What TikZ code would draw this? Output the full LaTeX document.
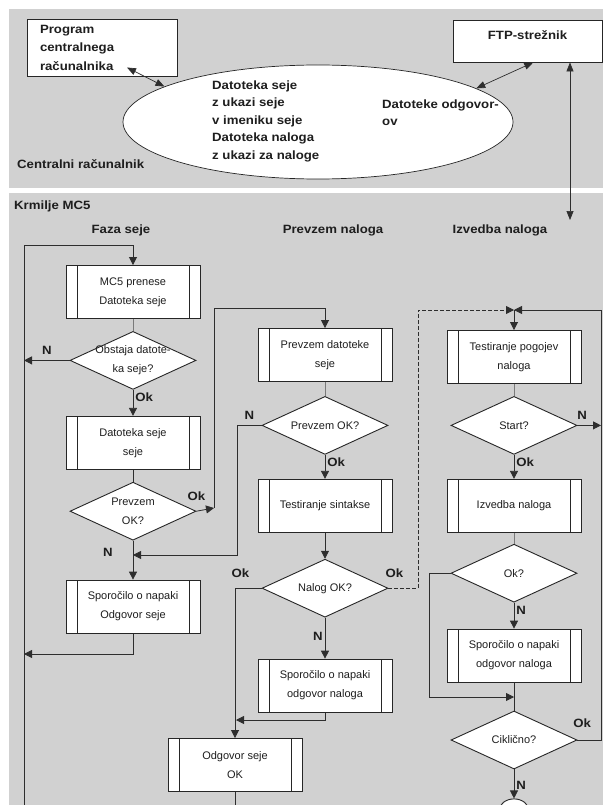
\documentclass[tikz,border=0pt]{standalone}
\usepackage{fontspec}
\setmainfont{Liberation Sans}
\newfontfamily\lblfont[FakeStretch=1.1]{Liberation Sans}
\usepackage{tikz}
\usetikzlibrary{positioning,arrows.meta,calc,shapes.geometric}
\usepackage{xcolor}
\definecolor{panelgray}{HTML}{D1D1D1}
\definecolor{boxline}{HTML}{262626}
\definecolor{flowline}{HTML}{2E2E2E}
\definecolor{softline}{HTML}{7A7A7A}
\definecolor{inktext}{HTML}{1E1E1E}
\tikzset{
  proc/.style={
    rectangle, draw=boxline, fill=white, line width=0.9pt,
    minimum width=134pt, minimum height=53pt, inner sep=2pt,
    align=center, text=inktext, font=\fontsize{11}{19}\selectfont,
    path picture={
      \draw[boxline, line width=0.9pt]
        ([xshift=11pt]path picture bounding box.north west) --
        ([xshift=11pt]path picture bounding box.south west)
        ([xshift=-11pt]path picture bounding box.north east) --
        ([xshift=-11pt]path picture bounding box.south east);
    }
  },
  dec/.style={
    diamond, draw=boxline, fill=white, line width=0.9pt,
    minimum width=126pt, minimum height=58pt, inner sep=0pt,
    label={[dtxt]center:#1}
  },
  dtxt/.style={
    align=center, text=inktext, font=\fontsize{11}{19}\selectfont
  },
  term/.style={
    ellipse, draw=boxline, fill=white, line width=0.9pt,
    minimum width=30pt, minimum height=24pt, inner sep=0pt
  },
  hostbox/.style={
    rectangle, draw=boxline, fill=white, line width=0.9pt,
    minimum width=150pt, minimum height=57pt, inner sep=0pt,
    text width=124pt, align=left, text=inktext,
    font=\lblfont\bfseries\fontsize{12}{18.5}\selectfont
  },
  ftpbox/.style={
    rectangle, draw=boxline, fill=white, line width=0.9pt,
    minimum width=149pt, minimum height=42pt, text=inktext,
    text height=9pt, text depth=12pt,
    font=\lblfont\bfseries\fontsize{12}{14}\selectfont
  },
  filesell/.style={
    ellipse, draw=boxline, fill=white, line width=0.7pt,
    minimum width=390pt, minimum height=114pt, inner sep=0pt
  },
  etxt/.style={
    align=left, inner sep=0pt, text=inktext,
    font=\lblfont\bfseries\fontsize{12}{17.5}\selectfont
  },
  lbl/.style={
    font=\lblfont\bfseries\fontsize{12}{14}\selectfont, text=inktext, inner sep=2pt
  },
  arr/.style={
    -{Triangle[length=8pt,width=8pt]}, draw=flowline, line width=0.8pt
  },
  arrdash/.style={
    arr, dash pattern=on 4pt off 2pt
  },
  dblarr/.style={
    {Triangle[length=9pt,width=7pt]}-{Triangle[length=9pt,width=7pt]},
    draw=flowline, line width=0.7pt
  },
  link/.style={
    draw=softline, line width=0.8pt
  },
  plain/.style={
    draw=flowline, line width=0.8pt
  }
}
\begin{document}
\begin{tikzpicture}[x=1pt, y=-1pt]
\useasboundingbox (0,0) rectangle (603,805);
\clip (0,0) rectangle (603,805);
\fill[panelgray] (9,9) rectangle (603,188);
\fill[panelgray] (9,193) rectangle (603,805);

\node[hostbox] (prog) at (102,47.5) {Program\\centralnega\\računalnika};
\node[ftpbox] (ftp) at (527.5,41) {FTP-strežnik};
\node[filesell] (ell) at (318,122) {};
\node[etxt, anchor=west] (sessf) at (212,121) {Datoteka seje\\z ukazi seje\\v imeniku seje\\Datoteka naloga\\z ukazi za naloge};
\node[etxt, anchor=west] (respf) at (382,112.5) {Datoteke odgovor-\\ov};
\node[lbl, anchor=west] (host) at (15,164) {Centralni računalnik};
\coordinate (ftpdn) at (570,220);

\draw[dblarr] ($(prog.center)+(25,20)$) -- (ell.167);
\draw[dblarr] (ftp.-75) -- (ell.12);
\draw[dblarr] (ftp.south -| ftpdn) -- (ftpdn);

\node[lbl, anchor=west] (mc5) at (12,206) {Krmilje MC5};
\node[lbl] (hsess) at (121,230) {Faza seje};
\node[lbl] (hload) at (333,230) {Prevzem naloga};
\node[lbl] (hexec) at (500,230) {Izvedba naloga};

\node[proc] (p1) at (133,292) {MC5 prenese\\Datoteka seje};
\node[dec={Obstaja datote-\\ka seje?}, below=12pt of p1] (q1) {};
\node[proc, below=26pt of q1] (p2) {Datoteka seje\\seje};
\node[dec={Prevzem\\OK?}, below=12pt of p2] (q2) {};
\node[proc, below=39pt of q2] (p3) {Sporočilo o napaki\\Odgovor seje};

\node[proc] (p4) at (325,355) {Prevzem datoteke\\seje};
\node[dec={Prevzem OK?}, below=14pt of p4] (q3) {};
\node[proc, below=24pt of q3] (p5) {Testiranje sintakse};
\node[dec={Nalog OK?}, below=26pt of p5] (q4) {};
\node[proc, below=41pt of q4] (p6) {Sporočilo o napaki\\odgovor naloga};
\node[proc] (p7) at (235,765) {Odgovor seje\\OK};

\node[proc] (p8) at (514,357) {Testiranje pogojev\\naloga};
\node[dec={Start?}, below=12pt of p8] (q5) {};
\node[proc, below=24pt of q5] (p9) {Izvedba naloga};
\node[dec={Ok?}, below=11pt of p9] (q6) {};
\node[proc, below=26pt of q6] (p10) {Sporočilo o napaki\\odgovor naloga};
\node[dec={Ciklično?}, below=28pt of p10] (q7) {};
\node[term, below=29pt of q7] (stop) {};

\coordinate (lbot) at (24,805);
\coordinate (ltop) at (24,245);
\coordinate (lret) at (24,654);
\coordinate (okj) at (214,508);
\coordinate (mtop) at (214,308);
\coordinate (nl) at (237,555);
\coordinate (okj2) at (236,720);
\coordinate (mbot) at (235,805);
\coordinate (dtop) at (418,310);
\coordinate (mrg) at (514,310);
\coordinate (rtop) at (601,310);
\coordinate (okl) at (429,697);

\draw[arr] (lbot) -- (ltop) -| (p1);
\draw[link] (p1) -- (q1);
\draw[arr] (q1.west) -- node[lbl, above=4pt]{N} (q1.west -| ltop);
\draw[arr] (q1) -- node[lbl, right, pos=0.3]{Ok} (p2);
\draw[plain] (p2) -- (q2);
\draw[arr] (q2.east) -- node[lbl, above=8pt, pos=0]{Ok} (okj);
\draw[arr] (okj) -- (mtop) -| (p4);
\draw[arr] (q2) -- node[lbl, left=18pt, pos=0.3]{N} (p3);
\draw[arr] (q3.west) -| node[lbl, above=4pt, pos=0.25]{N} (nl) -- (nl -| p3.north);
\draw[arr] (p3) |- (lret);

\draw[link] (p4) -- (q3);
\draw[arr] (q3) -- node[lbl, right, pos=0.3]{Ok} (p5);
\draw[arr] (p5) -- (q4);
\draw[arr] (q4.west) -| node[lbl, above=8pt, pos=0.4]{Ok} (p7);
\draw[arrdash] (q4.east) -| node[lbl, above=8pt, pos=0.1]{Ok} (dtop) -- (mrg);
\draw[arr] (q4) -- node[lbl, left, pos=0.45]{N} (p6);
\draw[arr] (p6) |- (okj2);
\draw[plain] (p7) -- (mbot);

\draw[arr] (mrg) -- (p8);
\draw[link] (p8) -- (q5);
\draw[arr] (q5.east) -- node[lbl, above=4pt, pos=0.2]{N} (q5.east -| rtop);
\draw[arr] (q5) -- node[lbl, right, pos=0.3]{Ok} (p9);
\draw[link] (p9) -- (q6);
\draw[arr] (q6) -- node[lbl, right, pos=0.3]{N} (p10);
\draw[arr] (q6.west) -| (okl) -- (okl -| q7.north);
\draw[plain] (p10) -- (q7);
\draw[arr] (q7.east) -| node[lbl, above=10pt, pos=0.1]{Ok} (rtop) -- (mrg);
\draw[arr] (q7) -- node[lbl, right, pos=0.55]{N} (stop);
\end{tikzpicture}
\end{document}
